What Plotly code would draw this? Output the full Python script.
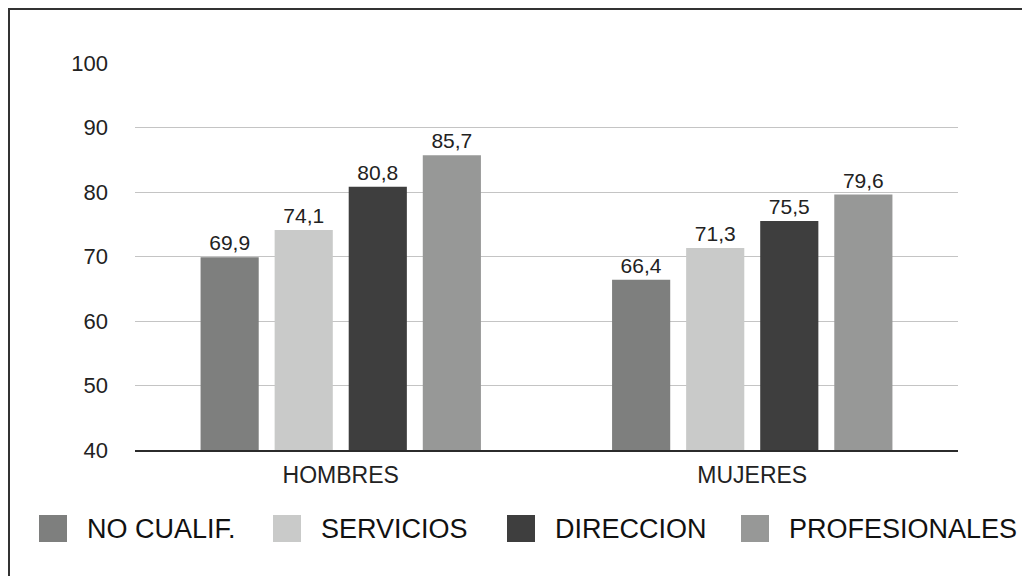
import plotly.graph_objects as go

# data
grupos = ["HOMBRES", "MUJERES"]
series = ["NO CUALIF.", "SERVICIOS", "DIRECCION", "PROFESIONALES"]
no_cualif = [69.9, 66.4]
servicios = [74.1, 71.3]
direccion = [80.8, 75.5]
profesionales = [85.7, 79.6]
colores = ["#7e7f7e", "#c9cac9", "#3e3e3e", "#979897"]

valores = [no_cualif, servicios, direccion, profesionales]

# the page body adds an 8px margin, so the figure is 8px smaller than the window
OFF = 8
W, H = 1030 - OFF, 576 - OFF
ML, MR, MT, MB = 127, 72, 55, 126
PW, PH = W - ML - MR, H - MT - MB


def px_x(px):
    # screen pixel -> paper coordinate
    return (px - OFF - ML) / PW


def px_y(py):
    return (H - MB - (py - OFF)) / PH


FONT = "Liberation Sans, Arial, sans-serif"

fig = go.Figure()

for nombre, vals, col in zip(series, valores, colores):
    fig.add_trace(go.Bar(
        x=grupos, y=vals, name=nombre,
        marker=dict(color=col, line=dict(width=0)),
        texttemplate="%{y:.1f}", textposition="outside",
        textfont=dict(size=21, color="#222222", family=FONT),
        cliponaxis=False, showlegend=False,
    ))

# legend drawn by hand so the swatches can be big like the original
leg_x0 = 39
leg_step = 234
for i, (nombre, col) in enumerate(zip(series, colores)):
    x0 = leg_x0 + i * leg_step
    fig.add_shape(type="rect", xref="paper", yref="paper",
                  x0=px_x(x0), x1=px_x(x0 + 28), y0=px_y(542), y1=px_y(515),
                  fillcolor=col, line=dict(width=0))
    fig.add_annotation(xref="paper", yref="paper", x=px_x(x0 + 46), y=px_y(529),
                       text=nombre, showarrow=False, xanchor="left", yanchor="middle",
                       font=dict(size=27, color="#111111", family=FONT))

# outer frame (right and bottom edges fall outside the picture)
fig.add_shape(type="rect", xref="paper", yref="paper",
              x0=px_x(9), x1=px_x(1040), y0=px_y(590), y1=px_y(9),
              line=dict(color="#333333", width=2), fillcolor="rgba(0,0,0,0)")

fig.update_layout(
    width=W, height=H,
    margin=dict(l=ML, r=MR, t=MT, b=MB),
    paper_bgcolor="white", plot_bgcolor="white",
    barmode="group", bargap=0.28, bargroupgap=0.215,
    separators=", ",
    font=dict(family=FONT, color="#222222"),
    xaxis=dict(
        showgrid=False, showline=True, linecolor="#2b2b2b", linewidth=2,
        tickfont=dict(size=23, color="#222222"), ticks="", ticklabelstandoff=3,
    ),
    yaxis=dict(
        range=[40, 100], dtick=10, showgrid=True, gridcolor="#c4c4c4", gridwidth=1,
        zeroline=False, showline=False, ticks="",
        tickfont=dict(size=22, color="#222222"), ticklabelstandoff=26,
    ),
    showlegend=False,
)

fig.write_html("out.html")
